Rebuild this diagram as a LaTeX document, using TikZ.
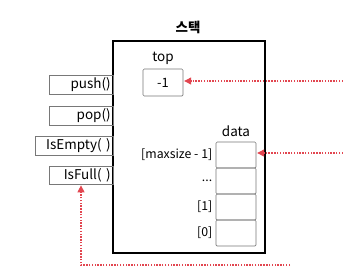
\documentclass[tikz,border=0pt]{standalone}
\usepackage{fontspec}
\setmainfont{Noto Sans CJK KR}
\usepackage{xcolor}
\usetikzlibrary{positioning,arrows.meta}
\definecolor{stackRed}{RGB}{226,70,80}
\definecolor{stackGray}{RGB}{120,120,120}
\tikzset{
  method/.style={draw=stackGray,line width=0.5pt,minimum height=0.54cm,inner sep=2pt,outer sep=0pt,anchor=east,align=right,font=\fontsize{11.5}{13}\selectfont},
  cell/.style={draw=stackGray,line width=0.5pt,rounded corners=1pt,minimum width=1.2cm,minimum height=0.78cm,outer sep=0pt,inner sep=0pt},
  idx/.style={anchor=east,inner sep=1pt,font=\fontsize{10.5}{12}\selectfont},
  ptr/.style={stackRed,dash pattern=on 1.2pt off 1.2pt,line width=0.9pt,-{Triangle[length=6pt,width=6pt]}}
}

\begin{document}
\begin{tikzpicture}[x=0.03cm,y=-0.03cm]
\useasboundingbox (0,0) rectangle (343,268);
\node[draw,line width=1.2pt,minimum width=4.56cm,minimum height=6.36cm,outer sep=0pt] (stack) at (189,147) {};
\node[font=\fontsize{11.5}{13}\selectfont\bfseries] (title) at (188,27) {스택};
% top
\node[font=\fontsize{11.5}{13}\selectfont] (toplbl) at (163,58) {top};
\node[cell,minimum height=0.81cm] (top) at (163,82.5) {\fontsize{11}{13}\selectfont -1};
% methods
\node[method,text width=1.78cm] (push) at (113,85) {push()};
\node[method,text width=1.78cm] (pop) at (113,116) {pop()};
\node[method,text width=2.2cm] (isempty) at (113,145.5) {IsEmpty( )};
\node[method,text width=1.78cm] (isfull) at (113,175) {IsFull( )};
% data
\node[cell] (d3) at (236,155) {};
\node[cell,below=0pt of d3] (d2) {};
\node[cell,below=0pt of d2] (d1) {};
\node[cell,below=0pt of d1] (d0) {};
\node[font=\fontsize{11.5}{13}\selectfont,above=1pt of d3] (datalbl) {data};
\node[idx,left=2pt of d3] {[maxsize - 1]};
\node[idx,left=2pt of d2] {...};
\node[idx,left=2pt of d1] {[1]};
\node[idx,left=2pt of d0] {[0]};
% pointers
\coordinate (topsrc) at (343,81);
\coordinate (datasrc) at (343,153);
\coordinate (fullsrc) at (290,265);
\draw[ptr] (topsrc) -- ([xshift=1pt]top.east |- topsrc);
\draw[ptr] (datasrc) -- ([xshift=1pt]d3.east |- datasrc);
\draw[ptr] (fullsrc) -| ([yshift=-1pt]isfull.south);
\end{tikzpicture}
\end{document}
